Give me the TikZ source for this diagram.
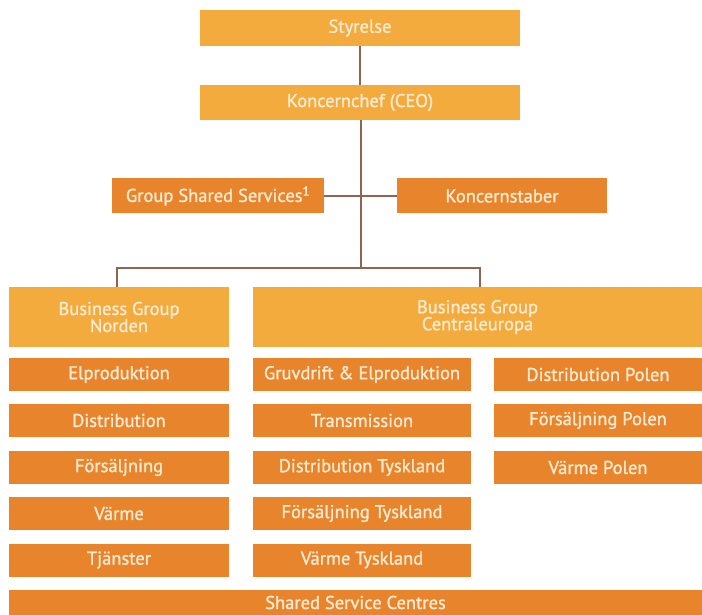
\documentclass[tikz,border=0pt]{standalone}
\usepackage{fontspec}
\setmainfont[AutoFakeBold=1.2]{PT Sans}
\usetikzlibrary{positioning}
\definecolor{lightorange}{HTML}{F3AB3E}
\definecolor{darkorange}{HTML}{E8852C}
\definecolor{boxtext}{HTML}{FCEBD2}
\definecolor{linebrown}{HTML}{8C6650}
\tikzset{orgbox/.style={rectangle, inner sep=0pt, outer sep=0pt, text=boxtext, font=\fontsize{18.5}{17}\selectfont\bfseries, align=center}}
\tikzset{headbox/.style={orgbox, fill=lightorange}}
\tikzset{unitbox/.style={orgbox, fill=darkorange, minimum height=33pt}}
\tikzset{conn/.style={draw, linebrown, line width=1.2pt}}

\begin{document}
\begin{tikzpicture}[x=1pt, y=-1pt]
		\useasboundingbox (0,0) rectangle (702,615);
		
		\node[headbox, minimum width=320pt, minimum height=36pt] (styr) at (360,28){Styrelse};
		\node[headbox, minimum width=320pt, minimum height=35pt] (ceo) at (360,102.5){Koncernchef (CEO)};
		
		\node[unitbox, minimum width=212pt, minimum height=35pt] (gss) at (218,196){Group Shared Services\textsuperscript{1}};
		\node[unitbox, minimum width=210pt, minimum height=35pt] (kstab) at (502,196){Koncernstaber};
		
		\node[headbox, minimum width=220pt, minimum height=60pt] (norden) at (119,317){Business Group\\Norden};
		\node[headbox, minimum width=449pt, minimum height=60pt] (central) at (477.5,317){Business Group\\Centraleuropa};
		
		% Norden
		\node[unitbox, minimum width=220pt] (n1) at (119,374.5){Elproduktion};
		\node[unitbox, minimum width=220pt] (n2) at (119,420.5){Distribution};
		\node[unitbox, minimum width=220pt] (n3) at (119,467.5){Försäljning};
		\node[unitbox, minimum width=220pt] (n4) at (119,513.5){Värme};
		\node[unitbox, minimum width=220pt] (n5) at (119,560){Tjänster};
		
		% Centraleuropa
		\node[unitbox, minimum width=218pt] (t1) at (362,374.5){Gruvdrift \& Elproduktion};
		\node[unitbox, minimum width=218pt] (t2) at (362,420.5){Transmission};
		\node[unitbox, minimum width=218pt] (t3) at (362,467.5){Distribution Tyskland};
		\node[unitbox, minimum width=218pt] (t4) at (362,513.5){Försäljning Tyskland};
		\node[unitbox, minimum width=218pt] (t5) at (362,560){Värme Tyskland};
		
		\node[unitbox, minimum width=208pt] (p1) at (598,374.5){Distribution Polen};
		\node[unitbox, minimum width=208pt] (p2) at (598,420.5){Försäljning Polen};
		\node[unitbox, minimum width=208pt] (p3) at (598,467.5){Värme Polen};
		
		\node[unitbox, minimum width=693pt, minimum height=25pt] (ssc) at (355.5,602.5){Shared Service Centres};
		
		\coordinate (bus) at (361,268);
		
		\draw[conn] (styr) -- (ceo);
		\draw[conn] ([xshift=1pt]ceo.south) -- (bus);
		\draw[conn] (gss) -- (kstab);
		\draw[conn] (bus) -| ([xshift=-2pt]norden.north);
		\draw[conn] (bus) -| ([xshift=2.5pt]central.north);
	\end{tikzpicture}
\end{document}
